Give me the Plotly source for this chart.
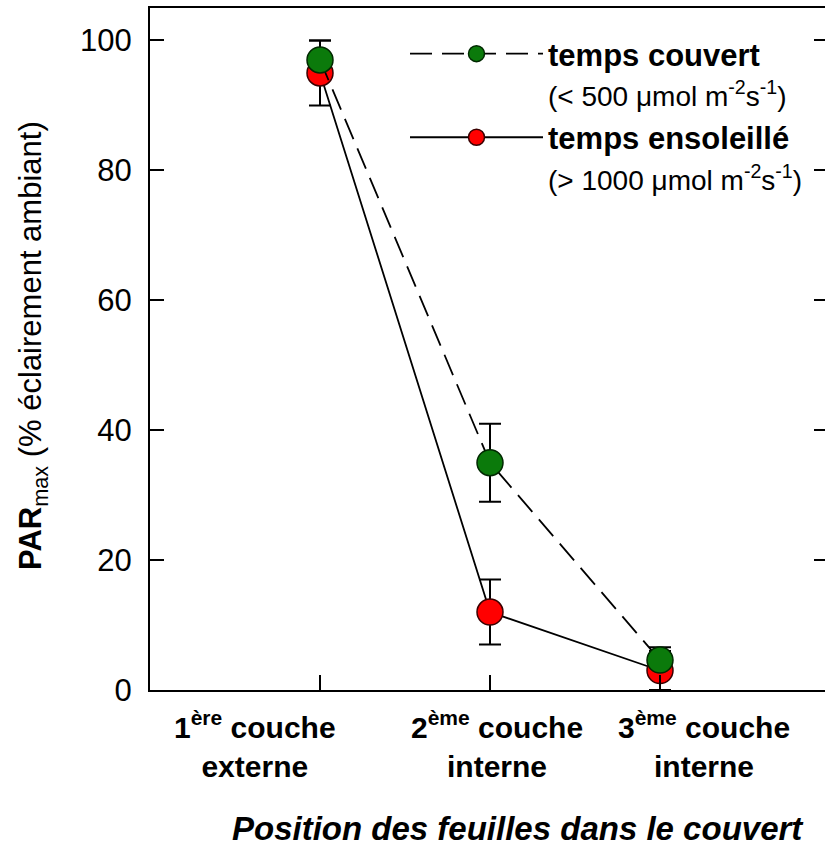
import plotly.graph_objects as go

# ---- data ----
categories = [1, 2, 3]
tick_vals = [1, 2, 3]
label_pos = [0.62, 2.04, 3.26]
label_text = ["1<sup>ère</sup> couche<br>externe",
              "2<sup>ème</sup> couche<br>interne",
              "3<sup>ème</sup> couche<br>interne"]
couvert = [97, 35, 4.6]
couvert_err_plus = [3, 6, 2]
couvert_err_minus = [0, 6, 0]
ensoleille = [95, 12, 3]
ensoleille_err_plus = [5, 5, 3]
ensoleille_err_minus = [5, 5, 3]
y_ticks = [0, 20, 40, 60, 80, 100]
y_range = [0, 105]

FONT = "Arial, Liberation Sans, sans-serif"
W, H = 825, 846
ML, MR, MT, MB = 150, 0, 8, 156
PW, PH = W - ML - MR, H - MT - MB

def px_x(p):
    return (p - ML) / PW

def px_y(p):
    return (H - MB - p) / PH

SUB = '<span style="font-size:28px">{}</span>'

fig = go.Figure()
fig.add_trace(go.Scatter(
    x=categories, y=ensoleille, mode="lines+markers",
    name="<b>temps ensoleillé</b><br>" + SUB.format("(&gt; 1000 μmol m<sup>-2</sup>s<sup>-1</sup>)"),
    line=dict(color="black", width=1.8),
    marker=dict(size=26, color="#ff0000", line=dict(color="#3a0000", width=1.5)),
    error_y=dict(type="data", symmetric=False, array=ensoleille_err_plus,
                 arrayminus=ensoleille_err_minus, color="black", thickness=2, width=11),
))
fig.add_trace(go.Scatter(
    x=categories, y=couvert, mode="lines+markers",
    name="<b>temps couvert</b><br>" + SUB.format("(&lt; 500 μmol m<sup>-2</sup>s<sup>-1</sup>)"),
    line=dict(color="black", width=1.8, dash="22px,10px"),
    marker=dict(size=26, color="#0b7a0b", line=dict(color="#002800", width=1.5)),
    error_y=dict(type="data", symmetric=False, array=couvert_err_plus,
                 arrayminus=couvert_err_minus, color="black", thickness=2, width=11),
))
# empty trace so the right-hand tick axis is drawn
fig.add_trace(go.Scatter(x=[None], y=[None], yaxis="y2", showlegend=False,
                         hoverinfo="skip", mode="markers"))

annotations = [
    dict(text="<b><i>Position des feuilles dans le couvert</i></b>",
         xref="paper", yref="paper", x=px_x(518), y=px_y(828),
         xanchor="center", yanchor="middle", showarrow=False,
         font=dict(size=33, color="black")),
    dict(text="<b>PAR</b><sub>max</sub> (% éclairement ambiant)",
         xref="paper", yref="paper", x=px_x(33), y=px_y(346),
         xanchor="center", yanchor="middle", textangle=-90, showarrow=False,
         font=dict(size=31, color="black")),
]
for xp, txt in zip(label_pos, label_text):
    annotations.append(dict(text=f"<b>{txt}</b>", xref="x", yref="paper",
                            x=xp, y=px_y(704), xanchor="center", yanchor="top",
                            showarrow=False, align="center",
                            font=dict(size=30, color="black")))

fig.update_layout(
    width=W, height=H,
    margin=dict(l=ML, r=MR, t=MT, b=MB, autoexpand=False),
    paper_bgcolor="white", plot_bgcolor="white",
    font=dict(family=FONT, size=30, color="black"),
    showlegend=True,
    legend=dict(x=px_x(405), y=px_y(27), xanchor="left", yanchor="top",
                traceorder="reversed", itemwidth=133, valign="top",
                font=dict(size=31, color="black"), bgcolor="rgba(0,0,0,0)",
                tracegroupgap=2),
    xaxis=dict(range=[0, (W - MR - ML) / 170], tickvals=tick_vals, showticklabels=False,
               ticks="inside", ticklen=15, tickwidth=2, tickcolor="black",
               showline=True, linewidth=2, linecolor="black", mirror=True,
               showgrid=False, zeroline=False),
    yaxis=dict(range=y_range, tickvals=y_ticks,
               ticks="inside", ticklen=14, tickwidth=2, tickcolor="black",
               showline=True, linewidth=2, linecolor="black", mirror=False,
               showgrid=False, zeroline=False, tickfont=dict(size=31),
               ticklabelstandoff=10),
    yaxis2=dict(overlaying="y", anchor="x", side="right", range=y_range,
                tickvals=y_ticks, showticklabels=False,
                ticks="inside", ticklen=11, tickwidth=2, tickcolor="black",
                showline=False, showgrid=False, zeroline=False),
    annotations=annotations,
)

fig.write_html("out.html")
